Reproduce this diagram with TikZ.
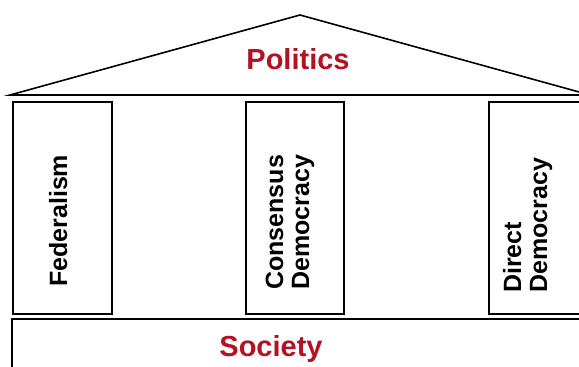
\documentclass[tikz,border=0pt]{standalone}
\usepackage{fontspec}
\setmainfont{Liberation Sans}
\definecolor{polred}{RGB}{180,18,35}
\begin{document}
\begin{tikzpicture}[x=1pt,y=-1pt,
  frame/.style={draw=black,line width=1.8pt},
  redlabel/.style={text=polred,font=\bfseries\fontsize{29}{32}\selectfont,inner sep=0pt},
  pillar/.style={rotate=90,font=\bfseries\fontsize{25}{26}\selectfont,inner sep=0pt,align=left,anchor=base west}]
\useasboundingbox (0,0) rectangle (579,367);
\clip (0,0) rectangle (579,367);
\fill[white] (0,0) rectangle (579,367);
% roof
\draw[frame,line width=1.6pt,line join=miter] (10,95) -- (300,15) -- (590,95) -- cycle;
\node[redlabel,anchor=base] (politics) at (298,69) {Politics};
% pillars
\draw[frame] (13,102) rectangle (112,314);
\draw[frame] (246,102) rectangle (344,314);
\draw[frame] (489,102) rectangle (600,314);
\node[pillar] (fed) at (67,287) {Federalism};
\node[pillar] (cons) at (309,290) {Consensus\\Democracy};
\node[pillar] (direct) at (547,293) {Direct\\Democracy};
% society
\draw[frame] (12,319) rectangle (600,400);
\node[redlabel,anchor=base] (society) at (271,356) {Society};
\end{tikzpicture}
\end{document}
